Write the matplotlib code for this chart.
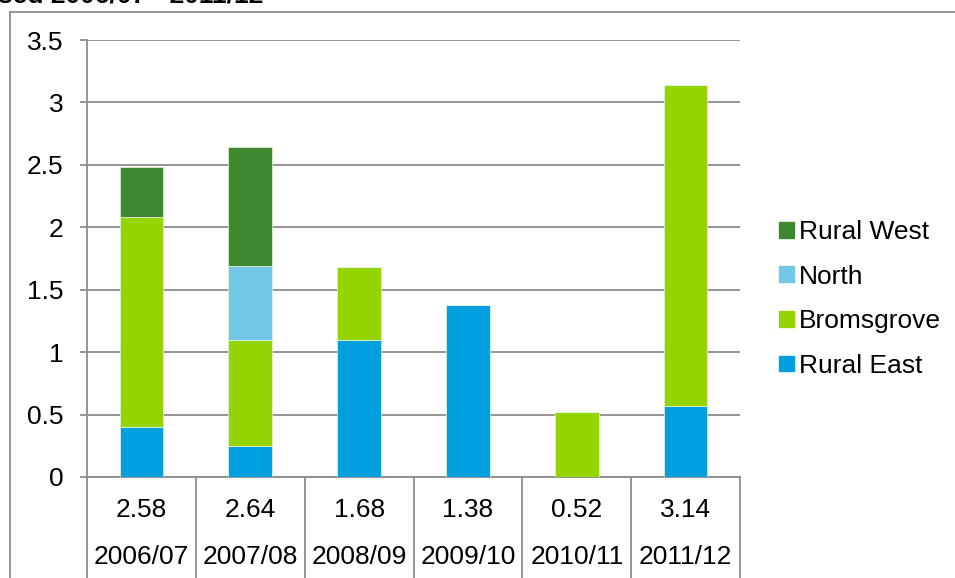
import matplotlib.pyplot as plt
import numpy as np
from matplotlib.lines import Line2D
from matplotlib.patches import Patch

plt.rcParams['font.family'] = ['Liberation Sans', 'DejaVu Sans']

# anni e totali (riga tabella)
anni = ['2006/07', '2007/08', '2008/09', '2009/10', '2010/11', '2011/12']
totali = ['2.58', '2.64', '1.68', '1.38', '0.52', '3.14']

# valori per area (impilati dal basso)
rural_east = [0.40, 0.25, 1.10, 1.38, 0.00, 0.57]
bromsgrove = [1.68, 0.85, 0.58, 0.00, 0.52, 2.57]
north = [0.00, 0.59, 0.00, 0.00, 0.00, 0.00]
rural_west = [0.40, 0.95, 0.00, 0.00, 0.00, 0.00]

serie = [('Rural East', rural_east, '#00A0DE'),
         ('Bromsgrove', bromsgrove, '#94D400'),
         ('North', north, '#72C6E6'),
         ('Rural West', rural_west, '#3E8930')]

grigio = '#8c8c8c'
fs = 19

fig = plt.figure(figsize=(9.55, 5.78), dpi=100)
ax = fig.add_axes([87/955, 1 - 477/578, (740 - 87)/955, (477 - 40)/578])

x = np.arange(len(anni))
base = np.zeros(len(anni))
for nome, val, col in serie:
    val = np.array(val)
    ax.bar(x, val, width=0.4, bottom=base, color=col, edgecolor='#e8f4e0',
           linewidth=0.5, zorder=3)
    base += val

ax.set_xlim(-0.5, len(anni) - 0.5)
ax.set_ylim(0, 3.5)
ax.set_yticks(np.arange(0, 3.51, 0.5))
ax.set_yticklabels(['0', '0.5', '1', '1.5', '2', '2.5', '3', '3.5'])
ax.yaxis.grid(True, color=grigio, linewidth=1.3, zorder=0)
ax.tick_params(axis='y', direction='out', length=5, width=1.3, color=grigio,
               labelsize=fs, pad=12)
ax.tick_params(axis='x', length=0, labelbottom=False)
for s in ['top', 'right']:
    ax.spines[s].set_visible(False)
for s in ['left', 'bottom']:
    ax.spines[s].set_color(grigio)
    ax.spines[s].set_linewidth(1.3)

# tabella sotto l'asse
tr = ax.get_xaxis_transform()
for i in range(len(anni)):
    ax.text(x[i], -0.075, totali[i], transform=tr, ha='center', va='center', fontsize=fs)
    ax.text(x[i], -0.183, anni[i], transform=tr, ha='center', va='center', fontsize=fs)
for b in np.arange(-0.5, len(anni), 1.0):
    ax.add_line(Line2D([b, b], [0, -0.25], transform=tr, color=grigio,
                       linewidth=1.3, clip_on=False))

# legenda (ordine inverso)
maniglie = [Patch(color=c, label=n) for n, v, c in serie[::-1]]
fig.legend(handles=maniglie, loc='center left', bbox_to_anchor=(779/955, 1 - 299/578),
           frameon=False, fontsize=fs, handlelength=0.55, handleheight=0.55,
           handletextpad=0.22, labelspacing=0.78, borderpad=0, borderaxespad=0)

# bordo del grafico
fig.add_artist(Line2D([10/955, 10/955], [0, 1 - 12/578], transform=fig.transFigure,
                      color=grigio, linewidth=1.3))
fig.add_artist(Line2D([10/955, 1], [1 - 12/578, 1 - 12/578], transform=fig.transFigure,
                      color=grigio, linewidth=1.3))

# titolo tagliato in alto
fig.text(-2/955, 1 + 4/578, 'sed 2006/07 - 2011/12', ha='left', va='center',
         fontsize=fs, fontweight='bold')

fig.savefig('out.png', dpi=100)
